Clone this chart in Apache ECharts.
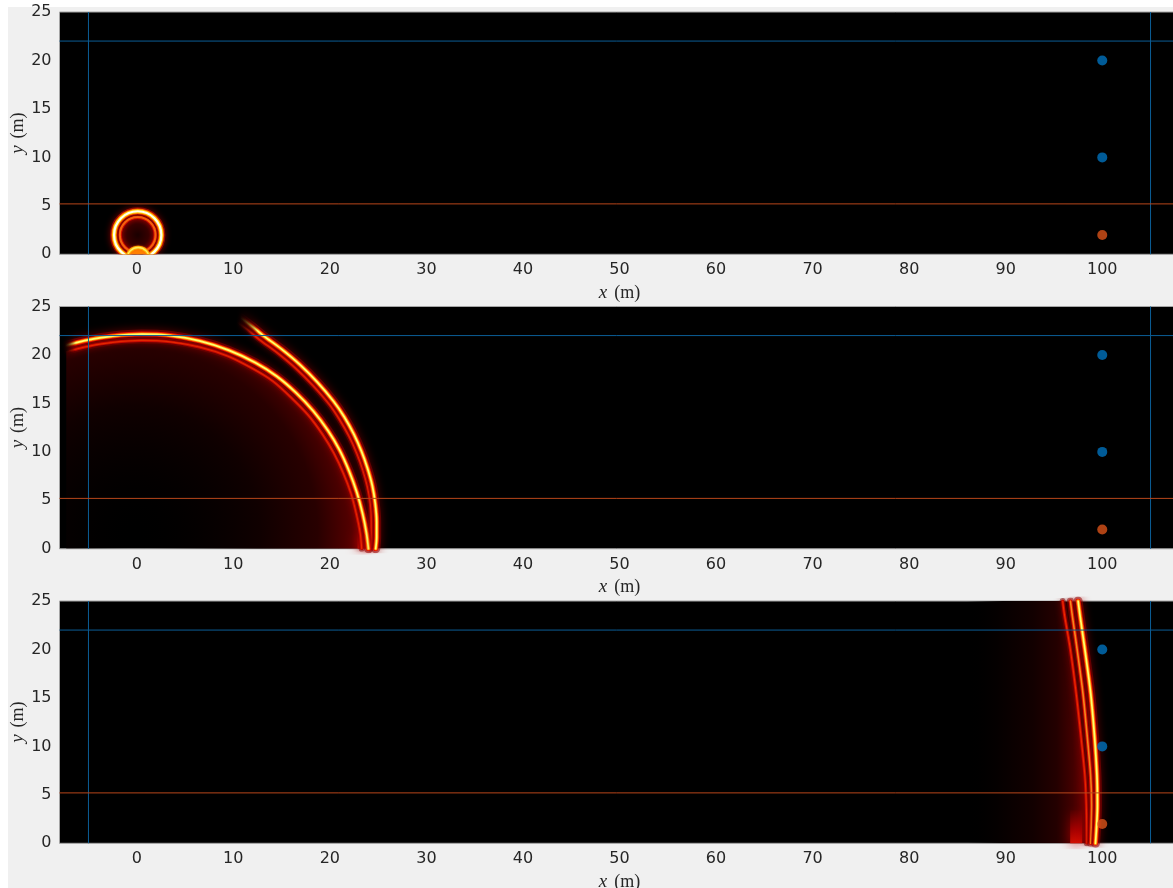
<!DOCTYPE html>
<html>
<head>
<meta charset="utf-8">
<script src="https://cdn.jsdelivr.net/npm/echarts@6/dist/echarts.min.js"></script>
<style>
  html, body { margin: 0; padding: 0; background: #ffffff; }
  #chart { width: 1173px; height: 888px; }
</style>
</head>
<body>
<div id="chart"></div>
<script>
// ---- axis extents and ticks (metres) ----
const xLimits = [-8, 108];
const yLimits = [0, 25];
const xTicks = [0, 10, 20, 30, 40, 50, 60, 70, 80, 90, 100];
const yTicks = [0, 5, 10, 15, 20, 25];

// ---- absorbing boundaries and layer interface ----
const boundaryX = [-5, 105];
const boundaryTopY = 22;
const interfaceY = 5.2;

// ---- receivers ----
const upperReceivers = [[100, 20], [100, 10]];
const lowerReceivers = [[100, 2]];

// ---- snapshot 1: ring around the source ----
const ringCentre = [0.1, 2.0];
const ringOuterRadius = 2.45;
const ringGapRadius = 2.08;
const ringInnerRadius = 1.85;
const surfaceCap = [0.15, -0.45, 1.15];   // x, y, radius

// ---- snapshot 2: two wavefronts (bright band and trailing band of each) ----
const frontA = [[-7.3, 21.0], [-5, 21.55], [-2.5, 21.95], [0.5, 22.15], [3.5, 22.0], [6.5, 21.45],
  [9.5, 20.5], [12.3, 19.2], [14.5, 17.8], [16.5, 16.1], [18.3, 14.2], [19.8, 12.2], [21.0, 10.2],
  [22.0, 8.0], [22.8, 5.8], [23.4, 3.6], [23.8, 1.6], [24.0, 0]];
const frontATrail = [[-7.3, 20.35], [-5, 20.9], [-2.5, 21.3], [0.5, 21.5], [3.5, 21.35], [6.5, 20.82],
  [9.4, 19.9], [12.0, 18.6], [14.1, 17.3], [16.0, 15.6], [17.8, 13.75], [19.25, 11.8], [20.4, 9.9],
  [21.4, 7.8], [22.2, 5.7], [22.75, 3.6], [23.15, 1.6], [23.3, 0]];
const frontB = [[10.8, 23.8], [12.0, 22.9], [13.1, 22.0], [15.0, 20.6], [16.9, 19.0], [18.7, 17.2],
  [20.4, 15.2], [21.5, 13.6], [22.5, 11.8], [23.3, 10.0], [23.9, 8.3], [24.4, 6.5], [24.7, 4.7],
  [24.85, 2.8], [24.85, 1.2], [24.75, 0]];
const frontBTrail = [[10.5, 23.3], [11.6, 22.5], [12.7, 21.6], [14.6, 20.2], [16.5, 18.6], [18.25, 16.85],
  [19.95, 14.9], [21.0, 13.35], [22.0, 11.6], [22.8, 9.85], [23.4, 8.2], [23.9, 6.4], [24.2, 4.65],
  [24.3, 2.8], [24.3, 1.2], [24.2, 0]];
const frontAFoot = [[23.5, 0], [23.5, 2.0]];

// ---- snapshot 3: fronts arriving at the receiver line ----
const frontC1 = [[97.5, 25], [97.7, 23.5], [98.2, 20], [98.8, 15.5], [99.2, 11], [99.45, 7], [99.5, 4], [99.3, 0]];
const frontC2 = [[96.7, 25], [96.9, 23.5], [97.4, 20], [98.0, 15.5], [98.45, 11], [98.8, 7], [98.9, 4], [98.8, 0]];
const frontC3 = [[95.9, 25], [96.1, 23.5], [96.7, 20], [97.3, 15.5], [97.8, 11], [98.2, 7], [98.35, 4], [98.4, 0]];
const frontCFoot = [[97.3, 0], [97.3, 3.4]];
const hazeStartX = 86;

// ---------------------------------------------------------------
const chart = echarts.init(document.getElementById('chart'), null, { renderer: 'canvas' });
const LG = echarts.graphic.LinearGradient;
const RG = echarts.graphic.RadialGradient;

const tops = [12, 306.5, 601];
const gridW = 1120, gridH = 242.3;

// stroke layers for the "hot" look: dark halo, red, orange, yellow core
const HOT_BRIGHT = [
  { w: 9, c: 'rgba(150,0,0,0.55)', blur: 8, sc: 'rgba(170,0,0,0.9)' },
  { w: 5, c: '#e81000' },
  { w: 3.4, c: '#ff8a00' },
  { w: 1.7, c: '#ffff70' }
];
const HOT_MID = [
  { w: 7, c: 'rgba(140,0,0,0.5)', blur: 6, sc: 'rgba(150,0,0,0.8)' },
  { w: 3.6, c: '#e01400' },
  { w: 1.6, c: '#ff9a20' }
];
const HOT_RED = [
  { w: 6, c: 'rgba(120,0,0,0.5)', blur: 6, sc: 'rgba(140,0,0,0.8)' },
  { w: 3, c: '#c80800' },
  { w: 1.1, c: '#f03000' }
];

function fade(color, edge) {
  return new LG(0, 0, 1, 0, [
    { offset: 0, color: 'rgba(0,0,0,0)' },
    { offset: edge, color: color },
    { offset: 1, color: color }
  ]);
}

function glow(data, gi, layers, fadeEdge, z) {
  return layers.map(l => ({
    type: 'line', xAxisIndex: gi, yAxisIndex: gi, data: data,
    showSymbol: false, smooth: 0.3, silent: true, animation: false, z: z || 3,
    lineStyle: {
      width: l.w, cap: 'round', join: 'round',
      color: fadeEdge ? fade(l.c, fadeEdge) : l.c,
      shadowBlur: l.blur || 0, shadowColor: l.sc || 'rgba(0,0,0,0)'
    }
  }));
}

// soft vertical glow that fades upward from the surface
function footGlow(data, gi) {
  return {
    type: 'line', xAxisIndex: gi, yAxisIndex: gi, data: data,
    showSymbol: false, silent: true, animation: false, z: 2,
    lineStyle: {
      width: 12, cap: 'butt',
      color: new LG(0, 1, 0, 0, [
        { offset: 0, color: 'rgba(245,25,0,0.95)' },
        { offset: 0.45, color: 'rgba(190,0,0,0.6)' },
        { offset: 1, color: 'rgba(120,0,0,0)' }
      ]),
      shadowBlur: 12, shadowColor: 'rgba(200,0,0,0.9)'
    }
  };
}

function ringSeries(gi, items, layers, fill, z) {
  return {
    type: 'custom', xAxisIndex: gi, yAxisIndex: gi, clip: true, silent: true, animation: false, z: z,
    data: items,
    renderItem: function (params, api) {
      const c = api.coord([api.value(0), api.value(1)]);
      const r = api.size([api.value(2), 0])[0];
      const kids = [];
      if (fill) {
        kids.push({ type: 'circle', shape: { cx: c[0], cy: c[1], r: r }, style: { fill: fill } });
      }
      layers.forEach(l => kids.push({
        type: 'circle', shape: { cx: c[0], cy: c[1], r: r },
        style: { fill: 'none', stroke: l.c, lineWidth: l.w, shadowBlur: l.blur || 0, shadowColor: l.sc || 'rgba(0,0,0,0)' }
      }));
      return { type: 'group', children: kids };
    }
  };
}

function guideLines(gi) {
  const mk = (data, color) => ({
    type: 'line', xAxisIndex: gi, yAxisIndex: gi, data: data, showSymbol: false,
    silent: true, animation: false, z: 8,
    itemStyle: { color: color },
    lineStyle: { color: color, width: 1, opacity: 1 }
  });
  return [
    mk([[boundaryX[0], yLimits[0]], [boundaryX[0], yLimits[1]]], '#0b5d96'),
    mk([[boundaryX[1], yLimits[0]], [boundaryX[1], yLimits[1]]], '#0b5d96'),
    mk([[xLimits[0], boundaryTopY], [xLimits[1], boundaryTopY]], '#0b5d96'),
    mk([[xLimits[0], interfaceY], [xLimits[1], interfaceY]], '#b8461a'),
    {
      type: 'scatter', xAxisIndex: gi, yAxisIndex: gi, data: upperReceivers, symbolSize: 10,
      itemStyle: { color: '#0072BD' }, silent: true, animation: false, z: 10
    },
    {
      type: 'scatter', xAxisIndex: gi, yAxisIndex: gi, data: lowerReceivers, symbolSize: 10,
      itemStyle: { color: '#D95319' }, silent: true, animation: false, z: 10
    }
  ];
}

const labelStyle = () => ({ color: '#262626', fontSize: 16, fontFamily: 'DejaVu Sans' });
const nameRich = () => ({
  i: { fontFamily: 'Liberation Serif', fontStyle: 'italic', fontSize: 19, color: '#262626' },
  s: { width: 7 },
  n: { fontFamily: 'Liberation Serif', fontSize: 18, color: '#262626' }
});

const grids = tops.map(t => ({
  left: 59.5, top: t, width: gridW, height: gridH, show: true,
  containLabel: false, outerBoundsMode: 'none',
  backgroundColor: '#000000', borderColor: '#a5a5a5', borderWidth: 1
}));
const xAxes = tops.map((t, i) => ({
  type: 'value', gridIndex: i, min: xLimits[0], max: xLimits[1],
  axisLine: { show: false }, axisTick: { show: false }, splitLine: { show: false },
  axisLabel: Object.assign({ customValues: xTicks, margin: 8 }, labelStyle()),
  name: '{i|x}{s|}{n|(m)}', nameLocation: 'middle', nameGap: 29, nameMoveOverlap: false,
  nameTextStyle: { rich: nameRich() }
}));
const yAxes = tops.map((t, i) => ({
  type: 'value', gridIndex: i, min: yLimits[0], max: yLimits[1],
  axisLine: { show: false }, axisTick: { show: false }, splitLine: { show: false },
  axisLabel: Object.assign({ customValues: yTicks, margin: 8 }, labelStyle()),
  name: '{i|y}{s|}{n|(m)}', nameLocation: 'middle', nameGap: 32, nameRotate: 90, nameMoveOverlap: false,
  nameTextStyle: { rich: nameRich() }
}));

let series = [];

// ---- panel 1 ----
series.push(ringSeries(0, [[ringCentre[0], ringCentre[1], ringInnerRadius]], [
  { w: 4, c: '#d01000', blur: 3, sc: '#800000' },
  { w: 2, c: '#ff7a10' }
], new RG(0.5, 0.5, 0.5, [
  { offset: 0, color: '#1a0000' }, { offset: 0.6, color: '#360000' }, { offset: 1, color: '#7a0000' }
]), 2));
series.push(ringSeries(0, [[ringCentre[0], ringCentre[1], ringGapRadius]], [
  { w: 1.2, c: '#000000' }
], null, 3));
series.push(ringSeries(0, [[ringCentre[0], ringCentre[1], ringOuterRadius]], [
  { w: 8, c: 'rgba(200,20,0,0.6)', blur: 6, sc: '#c00000' },
  { w: 5.5, c: '#ff5000' },
  { w: 4, c: '#ffd000' },
  { w: 2.2, c: '#fffff0' }
], null, 4));
series.push(ringSeries(0, [surfaceCap], [
  { w: 1.6, c: '#000000' },
  { w: 3.5, c: '#ffb000', blur: 2, sc: '#ff6000' },
  { w: 1.4, c: '#ffee60' }
], new RG(0.5, 0.9, 0.6, [
  { offset: 0, color: '#fff4c0' }, { offset: 0.7, color: '#ffc840' }, { offset: 1, color: '#ff8000' }
]), 5));

// ---- panel 2 ----
series.push({
  type: 'line', xAxisIndex: 1, yAxisIndex: 1, data: frontATrail, showSymbol: false, smooth: 0.3,
  silent: true, animation: false, z: 1, lineStyle: { width: 0 },
  areaStyle: {
    opacity: 1,
    color: new RG(0.23, 0.92, 1.1, [
      { offset: 0, color: 'rgba(0,0,0,0)' },
      { offset: 0.55, color: 'rgba(16,0,0,1)' },
      { offset: 0.8, color: 'rgba(40,0,0,1)' },
      { offset: 0.95, color: 'rgba(85,0,0,1)' },
      { offset: 1, color: 'rgba(120,0,0,1)' }
    ])
  }
});
series.push(footGlow(frontAFoot, 1));
series = series.concat(glow(frontATrail, 1, HOT_RED, 0.04, 3));
series = series.concat(glow(frontA, 1, HOT_BRIGHT, 0.04, 4));
series = series.concat(glow(frontBTrail, 1, HOT_RED, 0.14, 3));
series = series.concat(glow(frontB, 1, HOT_BRIGHT, 0.14, 4));

// ---- panel 3 ----
series.push({
  type: 'custom', xAxisIndex: 2, yAxisIndex: 2, clip: true, silent: true, animation: false, z: 1,
  data: [0],
  renderItem: function (params, api) {
    const outline = [[hazeStartX, yLimits[1]]].concat(frontC3, [[hazeStartX, yLimits[0]]]);
    return {
      type: 'polygon',
      shape: { points: outline.map(p => api.coord(p)), smooth: 0 },
      style: {
        fill: new LG(0, 0, 1, 0, [
          { offset: 0, color: 'rgba(0,0,0,0)' },
          { offset: 0.3, color: 'rgba(7,0,0,1)' },
          { offset: 0.55, color: 'rgba(18,0,0,1)' },
          { offset: 0.75, color: 'rgba(36,0,0,1)' },
          { offset: 0.88, color: 'rgba(66,0,0,1)' },
          { offset: 1, color: 'rgba(115,0,0,1)' }
        ])
      }
    };
  }
});
series.push(footGlow(frontCFoot, 2));
series = series.concat(glow(frontC3, 2, HOT_RED, 0, 3));
series = series.concat(glow(frontC2, 2, HOT_MID, 0, 4));
series = series.concat(glow(frontC1, 2, HOT_BRIGHT, 0, 5));

// guides and receivers on every panel
[0, 1, 2].forEach(gi => { series = series.concat(guideLines(gi)); });

chart.setOption({
  animation: false,
  backgroundColor: '#ffffff',
  graphic: [{
    type: 'rect', left: 8, top: 7, z: -10, silent: true,
    shape: { width: 1165, height: 881 }, style: { fill: '#f0f0f0' }
  }],
  grid: grids,
  xAxis: xAxes,
  yAxis: yAxes,
  series: series
});
</script>
</body>
</html>
